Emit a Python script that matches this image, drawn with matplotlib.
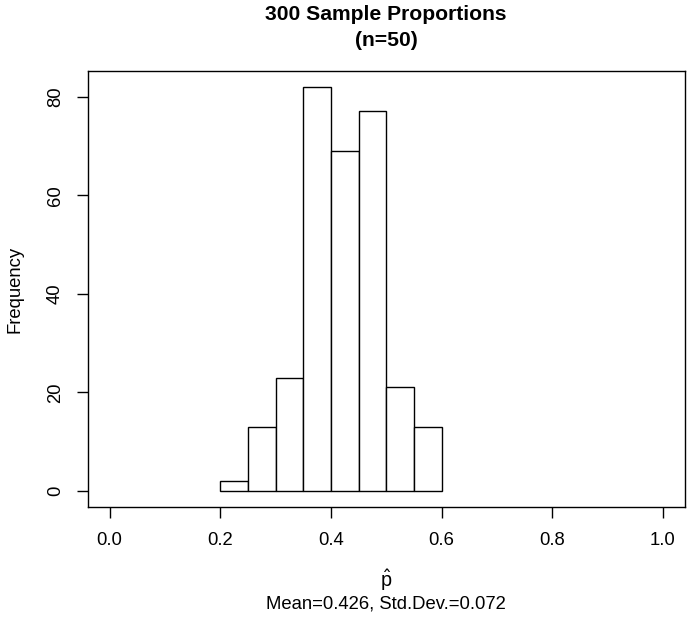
import matplotlib
matplotlib.use("Agg")
import matplotlib.pyplot as plt
import numpy as np

plt.rcParams['font.family'] = ['Liberation Sans', 'DejaVu Sans']

bin_edges = [0.20, 0.25, 0.30, 0.35, 0.40, 0.45, 0.50, 0.55, 0.60]
counts = [2, 13, 23, 82, 69, 77, 21, 13]
x_ticks = [0.0, 0.2, 0.4, 0.6, 0.8, 1.0]
x_tick_labels = ["0.0", "0.2", "0.4", "0.6", "0.8", "1.0"]
y_ticks = [0, 20, 40, 60, 80]
title = "300 Sample Proportions\n(n=50)"
subtitle = "Mean=0.426, Std.Dev.=0.072"

W, H = 689, 618
fig = plt.figure(figsize=(W / 100, H / 100), dpi=100)
left, right, top, bottom = 87.5, 685.0, 70.7, 507.0
ax = fig.add_axes([left / W, 1 - bottom / H, (right - left) / W, (bottom - top) / H])

edges = np.array(bin_edges)
ax.bar(edges[:-1], counts, width=np.diff(edges), align='edge',
       facecolor='white', edgecolor='black', linewidth=1.0)

fs = 13.3
ax.set_xlim(-0.04, 1.04)
ymax = max(counts)
ax.set_ylim(-0.04 * ymax, 1.04 * ymax)
ax.set_xticks(x_ticks)
ax.set_xticklabels(x_tick_labels)
ax.set_yticks(y_ticks)
ax.set_yticklabels([str(v) for v in y_ticks], rotation=90, va='center')
ax.tick_params(axis='both', direction='out', length=8, width=1.0, labelsize=fs)
ax.tick_params(axis='x', pad=10)
ax.tick_params(axis='y', pad=9)
for s in ax.spines.values():
    s.set_linewidth(1.0)

fig.text(386 / W, 1 - 14 / H, title.split("\n")[0], ha='center', va='center',
         fontsize=15.2, fontweight='bold')
fig.text(386 / W, 1 - 40 / H, title.split("\n")[1], ha='center', va='center',
         fontsize=15.2, fontweight='bold')
fig.text(15 / W, 1 - 289 / H, "Frequency", rotation=90, ha='center', va='center', fontsize=fs)
fig.text(386 / W, 1 - 580 / H, r"$\hat{\mathregular{p}}$", ha='center', va='center', fontsize=fs + 1)
fig.text(386 / W, 1 - 604 / H, subtitle, ha='center', va='center', fontsize=fs)

fig.savefig("out.png", dpi=100)
